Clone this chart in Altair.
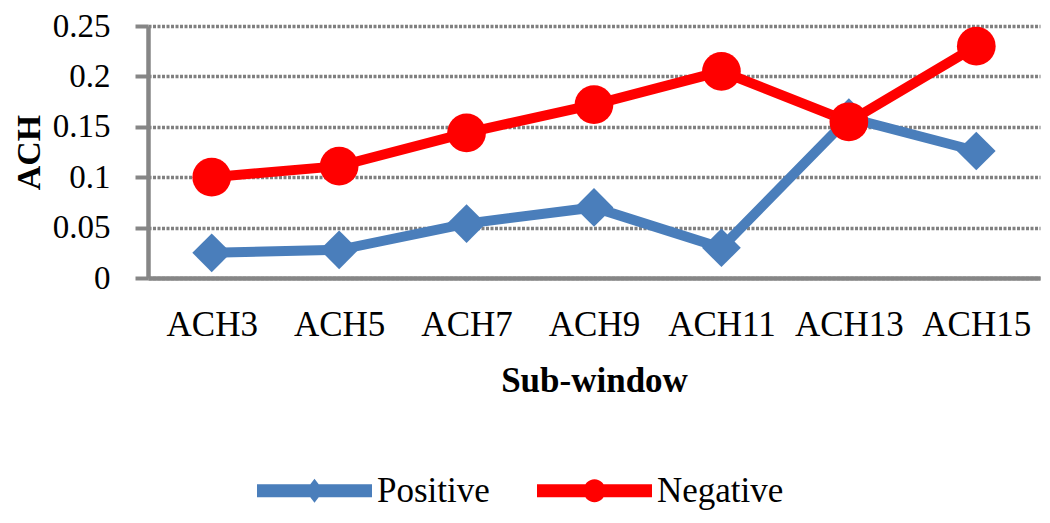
import altair as alt
import pandas as pd

categories = ["ACH3", "ACH5", "ACH7", "ACH9", "ACH11", "ACH13", "ACH15"]
positive = [0.025, 0.028, 0.054, 0.070, 0.030, 0.159, 0.126]
negative = [0.100, 0.111, 0.144, 0.172, 0.205, 0.155, 0.230]
series_names = ["Positive", "Negative"]
series_colors = ["#4A7EBB", "#FF0000"]
series_markers = ["diamond", "circle"]
y_ticks = [0, 0.05, 0.1, 0.15, 0.2, 0.25]

rows = []
for name, marker, vals in zip(series_names, series_markers, [positive, negative]):
    for c, v in zip(categories, vals):
        rows.append({"cat": c, "value": v, "series": name, "marker": marker})
df = pd.DataFrame(rows)

FONT = "Liberation Serif"
GRAY = "#868686"

pos_path = "M-1,-0.113H1V0.113H-1Z M0,-0.21L0.16,0L0,0.21L-0.16,0Z"
neg_path = ("M-1,-0.113H1V0.113H-1Z "
            "M-0.19,0A0.19,0.2 0 1,1 0.19,0A0.19,0.2 0 1,1 -0.19,0Z")

legend = alt.Legend(
    orient="none", legendX=109, legendY=407, direction="horizontal",
    title=None, labelFont=FONT, labelFontSize=35, labelColor="#000000",
    labelOffset=5, columnPadding=47, symbolSize=13225, padding=0,
    symbolOpacity=1, symbolStrokeWidth=0,
)

x_enc = alt.X(
    "cat:N", sort=categories,
    scale=alt.Scale(type="point", padding=0.5),
    axis=alt.Axis(
        title="Sub-window", labelAngle=0, ticks=False, labelPadding=29,
        labelFont=FONT, labelFontSize=35, labelColor="#000000",
        titleFont=FONT, titleFontSize=35, titleFontWeight="bold", titleColor="#000000",
        titleY=113, titleBaseline="alphabetic",
        domainColor=GRAY, domainWidth=4.5, grid=False,
    ),
)
y_enc = alt.Y(
    "value:Q",
    scale=alt.Scale(domain=[0, 0.25], nice=False),
    axis=alt.Axis(
        values=y_ticks, format="~g", title="ACH",
        labelFont=FONT, labelFontSize=33, labelColor="#000000", labelPadding=25,
        tickSize=13, tickWidth=4, tickColor=GRAY,
        domainColor=GRAY, domainWidth=4.5,
        grid=True, gridColor="#808080", gridDash=[3, 1.5], gridWidth=3.5,
        titleFont=FONT, titleFontSize=34, titleFontWeight="bold", titleColor="#000000",
        titleAngle=-90, titleX=-109, titleY=126, titleBaseline="alphabetic",
        titleAlign="center",
    ),
)

color_scale = alt.Scale(domain=series_names, range=series_colors)

lines = alt.Chart(df).mark_line(strokeWidth=10).encode(
    x=x_enc, y=y_enc,
    color=alt.Color("series:N", scale=color_scale, legend=None),
    order=alt.Order("series:N"),
)

points = alt.Chart(df).mark_point(filled=True, opacity=1, size=1500).encode(
    x=x_enc, y=y_enc,
    color=alt.Color("series:N", scale=color_scale, legend=None),
    shape=alt.Shape("marker:N", scale=None),
)

legend_layer = alt.Chart(df).mark_point(filled=True, opacity=0, size=10).encode(
    x=x_enc, y=y_enc,
    color=alt.Color("series:N", scale=color_scale, legend=legend),
    shape=alt.Shape("series:N", scale=alt.Scale(domain=series_names, range=[pos_path, neg_path]), legend=legend),
)

chart = alt.layer(lines, points, legend_layer).resolve_legend(
    color="independent", shape="independent"
).properties(
    width=892, height=252,
    padding={"left": 140, "top": 18, "right": 2, "bottom": 237},
    autosize=alt.AutoSizeParams(type="none"),
    background="white",
).configure_view(stroke=None)

chart.save("out.html", embed_options={"renderer": "svg", "actions": False})
